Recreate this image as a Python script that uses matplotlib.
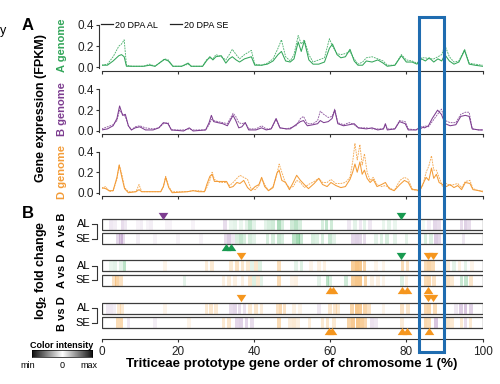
import matplotlib.pyplot as plt
from matplotlib.patches import Rectangle
from matplotlib.lines import Line2D
from matplotlib.colors import to_rgba
import matplotlib.transforms as mtransforms
import numpy as np

plt.rcParams['font.family'] = ['Liberation Sans', 'DejaVu Sans']
plt.rcParams['mathtext.fontset'] = 'custom'
plt.rcParams['mathtext.rm'] = 'Liberation Sans:bold'
plt.rcParams['mathtext.default'] = 'rm'

# ---- panel A: expression along chromosome (% position) ----
a_pos = [0, 1.5, 3, 4.5, 5.2, 5.9, 6.5, 8, 11, 12.6, 14, 15.5, 16.5, 17.5, 18.7, 21, 22.7, 23.5,
         26.5, 27.5, 28.4, 29.2, 30.0, 31.4, 32.6, 33.5, 34.3, 35.3, 36.2, 37.5, 39.3, 40.2, 42.0,
         43.5, 45.0, 46.3, 47.2, 48.3, 49.5, 50.5, 51.6, 52.4, 53.2, 54.4, 55.5, 57, 58.5, 59.8,
         60.6, 61.8, 62.8, 64.0, 65.2, 66.3, 67.3, 68.5, 69.5, 71, 72.5, 73.9, 75, 77, 78.7, 80,
         81.5, 82.8, 84, 85, 86, 87.2, 88.3, 89.3, 90.1, 91.3, 92.5, 93.8, 95.3, 96.5, 98, 100]
a_al = [0.02, 0.02, 0.06, 0.11, 0.12, 0.10, 0.01, 0.01, 0.01, 0.02, 0.01, 0.05, 0.075, 0.06, 0.01,
        0.01, 0.04, 0.01, 0.01, 0.06, 0.10, 0.07, 0.10, 0.11, 0.04, 0.08, 0.10, 0.07, 0.05, 0.08,
        0.10, 0.02, 0.02, 0.03, 0.06, 0.12, 0.15, 0.06, 0.05, 0.08, 0.24, 0.15, 0.25, 0.07, 0.03,
        0.03, 0.05, 0.18, 0.22, 0.12, 0.09, 0.10, 0.17, 0.06, 0.02, 0.02, 0.06, 0.05, 0.07, 0.04,
        0.01, 0.02, 0.11, 0.05, 0.05, 0.03, 0.08, 0.06, 0.09, 0.05, 0.08, 0.06, 0.12, 0.06, 0.03,
        0.05, 0.16, 0.03, 0.02, 0.01]
a_se = [0.02, 0.03, 0.10, 0.20, 0.22, 0.26, 0.02, 0.01, 0.01, 0.03, 0.01, 0.05, 0.08, 0.07, 0.01,
        0.01, 0.03, 0.01, 0.01, 0.07, 0.09, 0.08, 0.12, 0.10, 0.07, 0.12, 0.17, 0.12, 0.08, 0.12,
        0.16, 0.03, 0.02, 0.04, 0.08, 0.18, 0.26, 0.10, 0.06, 0.12, 0.30, 0.22, 0.26, 0.12, 0.05,
        0.07, 0.09, 0.27, 0.20, 0.13, 0.12, 0.13, 0.15, 0.08, 0.03, 0.05, 0.09, 0.10, 0.08, 0.06,
        0.02, 0.02, 0.12, 0.07, 0.06, 0.04, 0.09, 0.09, 0.08, 0.08, 0.10, 0.12, 0.21, 0.10, 0.05,
        0.06, 0.17, 0.04, 0.03, 0.02]

b_pos = [0, 1.5, 3.0, 4.0, 4.7, 5.5, 6.2, 7.0, 7.8, 8.8, 10.0, 11.5, 13.5, 15.0, 16.2, 17.4, 18.3,
         21.5, 23.0, 24.0, 27.3, 28.2, 28.8, 29.4, 30.5, 31.8, 33.0, 34.5, 35.2, 36.0, 36.8, 37.7,
         38.6, 40.5, 42.0, 43.2, 44.5, 45.8, 46.8, 48.5, 49.5, 51.0, 52.2, 53.0, 54.0, 55.5, 56.7,
         57.4, 58.3, 59.5, 60.5, 61.2, 62.0, 63.5, 65.0, 66.3, 67.4, 69.5, 71.0, 72.5, 74.0, 74.5,
         75.0, 77.0, 78.2, 79.7, 80.5, 82.5, 83.8, 84.8, 85.8, 86.8, 88.2, 89.2, 90.2, 91.5, 93.0,
         94.3, 95.5, 96.5, 97.3, 99.0, 100]
b_al = [0.01, 0.02, 0.05, 0.12, 0.24, 0.15, 0.16, 0.05, 0.01, 0.03, 0.04, 0.01, 0.01, 0.03, 0.08,
        0.07, 0.01, 0.0, 0.03, 0.0, 0.01, 0.08, 0.15, 0.09, 0.08, 0.07, 0.05, 0.15, 0.10, 0.03,
        0.04, 0.08, 0.01, 0.01, 0.03, 0.01, 0.02, 0.12, 0.03, 0.02, 0.02, 0.06, 0.09, 0.10, 0.05,
        0.06, 0.07, 0.10, 0.08, 0.09, 0.12, 0.20, 0.07, 0.05, 0.06, 0.07, 0.03, 0.02, 0.03, 0.01,
        0.02, 0.07, 0.01, 0.02, 0.09, 0.07, 0.01, 0.01, 0.04, 0.03, 0.05, 0.12, 0.20, 0.16, 0.07,
        0.05, 0.06, 0.14, 0.15, 0.14, 0.02, 0.01, 0.01]
b_se = [0.02, 0.04, 0.06, 0.10, 0.20, 0.16, 0.14, 0.05, 0.01, 0.04, 0.05, 0.03, 0.02, 0.03, 0.07,
        0.08, 0.01, 0.01, 0.02, 0.01, 0.01, 0.06, 0.11, 0.10, 0.09, 0.08, 0.07, 0.17, 0.14, 0.08,
        0.07, 0.08, 0.02, 0.02, 0.05, 0.02, 0.02, 0.11, 0.03, 0.02, 0.03, 0.05, 0.12, 0.14, 0.07,
        0.07, 0.10, 0.19, 0.16, 0.13, 0.14, 0.21, 0.08, 0.06, 0.08, 0.06, 0.03, 0.03, 0.02, 0.02,
        0.02, 0.06, 0.02, 0.02, 0.10, 0.09, 0.02, 0.01, 0.02, 0.05, 0.04, 0.09, 0.16, 0.21, 0.10,
        0.08, 0.08, 0.16, 0.18, 0.18, 0.02, 0.01, 0.01]

d_pos = [0, 1.0, 2.0, 3.0, 4.0, 4.6, 5.3, 6.0, 7.0, 9.0, 9.8, 10.5, 15.5, 16.2, 16.8, 17.6, 18.5,
         22.5, 24.0, 25.5, 27.0, 27.6, 28.4, 29.0, 29.6, 31.0, 32.8, 33.6, 34.5, 35.5, 36.3, 37.3,
         38.3, 39.2, 40.3, 41.3, 42.0, 42.8, 43.8, 45.0, 46.0, 46.6, 47.3, 48.3, 49.3, 50.3, 51.2,
         52.2, 53.2, 54.3, 55.8, 57.0, 58.0, 59.2, 60.2, 61.5, 62.8, 64.0, 65.2, 65.9, 66.5, 67.1,
         67.8, 68.4, 69.0, 69.7, 70.5, 71.3, 72.3, 73.5, 74.5, 75.5, 76.8, 78.3, 79.5, 80.5, 81.5,
         82.5, 83.5, 84.3, 85.2, 85.9, 86.6, 87.2, 87.9, 88.6, 89.5, 90.5, 91.5, 92.5, 93.5, 94.5,
         95.5, 96.7, 97.5, 99.0, 100]
d_al = [0.05, 0.04, 0.02, 0.02, 0.15, 0.27, 0.15, 0.04, 0.0, 0.01, 0.03, 0.01, 0.01, 0.06, 0.15,
        0.05, 0.0, 0.01, 0.02, 0.01, 0.01, 0.08, 0.16, 0.18, 0.11, 0.11, 0.11, 0.05, 0.06, 0.10,
        0.09, 0.12, 0.05, 0.02, 0.06, 0.08, 0.15, 0.06, 0.02, 0.05, 0.19, 0.22, 0.12, 0.10, 0.03,
        0.10, 0.17, 0.12, 0.08, 0.04, 0.09, 0.14, 0.08, 0.06, 0.10, 0.07, 0.05, 0.06, 0.13, 0.20,
        0.28, 0.20, 0.30, 0.18, 0.22, 0.14, 0.10, 0.13, 0.06, 0.08, 0.10, 0.04, 0.02, 0.08, 0.12,
        0.10, 0.03, 0.03, 0.02, 0.08, 0.15, 0.12, 0.24, 0.14, 0.18, 0.10, 0.08, 0.06, 0.08, 0.05,
        0.07, 0.03, 0.10, 0.09, 0.03, 0.02, 0.01]
d_se = [0.04, 0.06, 0.01, 0.02, 0.13, 0.27, 0.18, 0.05, 0.01, 0.01, 0.08, 0.01, 0.01, 0.06, 0.16,
        0.06, 0.01, 0.01, 0.02, 0.02, 0.01, 0.05, 0.12, 0.20, 0.13, 0.10, 0.10, 0.07, 0.10, 0.14,
        0.17, 0.15, 0.13, 0.04, 0.03, 0.07, 0.14, 0.08, 0.02, 0.06, 0.18, 0.28, 0.20, 0.09, 0.05,
        0.06, 0.12, 0.10, 0.05, 0.08, 0.11, 0.14, 0.10, 0.10, 0.13, 0.09, 0.09, 0.10, 0.15, 0.30,
        0.48, 0.32, 0.47, 0.27, 0.38, 0.20, 0.12, 0.15, 0.08, 0.06, 0.07, 0.05, 0.02, 0.12, 0.15,
        0.13, 0.04, 0.02, 0.02, 0.07, 0.20, 0.26, 0.36, 0.22, 0.22, 0.15, 0.06, 0.09, 0.07, 0.08,
        0.09, 0.05, 0.11, 0.12, 0.04, 0.02, 0.02]

# ---- panel B: log2 fold change bands (+ first genome higher, - second genome higher) ----
avb_al_pos = [2.5, 3.5, 5.5, 6.2, 9.5, 10.5, 12, 13, 17, 18, 24, 32.3, 34, 35, 36.5, 38, 39, 40, 43,
              44, 45, 46.5, 47.5, 50, 51, 52, 58, 59, 60.3, 65, 66.5, 68, 69, 70.5, 74, 75.5, 77,
              84.5, 86, 87.5, 88.5, 94.5, 95.5, 96.5]
avb_al_val = [-0.2, -0.15, -0.3, -0.2, -0.1, -0.15, -0.1, -0.15, -0.1, -0.1, -0.1, -0.3, 0.15, 0.2,
              0.15, 0.2, 0.45, 0.2, 0.2, 0.3, 0.35, 0.6, 0.3, 0.35, 0.5, 0.3, 0.3, 0.45, 0.35, -0.2,
              0.2, -0.2, 0.2, -0.2, 0.15, 0.2, 0.15, 0.1, -0.15, -0.35, -0.3, -0.3, -0.4, -0.3]
avb_se_pos = [4.3, 5, 5.6, 9.5, 14, 20, 26, 32.5, 33.5, 34.5, 35.5, 36.5, 37.5, 39, 40, 43.5, 45,
              46.5, 47.5, 50.5, 51.5, 52.3, 55.5, 56.5, 58, 60, 61, 66, 67, 68, 69, 72, 73.5, 75,
              77, 80, 85, 86.5, 87.8, 88.7, 95]
avb_se_val = [-0.35, -0.5, -0.3, -0.15, -0.1, -0.1, -0.1, -0.3, -0.45, -0.2, 0.3, 0.45, 0.3, 0.3,
              0.2, 0.3, 0.3, 0.4, 0.3, 0.5, 0.7, 0.4, 0.3, 0.25, 0.3, 0.4, 0.2, -0.35, -0.4, -0.35,
              -0.3, 0.2, 0.25, 0.3, 0.2, 0.2, 0.3, 0.25, -0.45, -0.35, -0.2]
avd_al_pos = [2.5, 3.5, 5, 6, 16.7, 27.5, 29, 34, 35.5, 37, 38.5, 39.5, 40.5, 41.5, 46.5, 51, 52.5,
              55, 57, 58.5, 66, 67, 68, 69, 72, 74, 79, 80.3, 85, 86, 87, 91, 92.5, 94, 95.5, 97.3]
avd_al_val = [0.15, 0.2, 0.2, 0.5, -0.15, -0.25, -0.3, -0.3, -0.4, -0.35, -0.3, 0.2, -0.35, 0.25,
              -0.45, 0.2, 0.25, -0.15, -0.2, -0.2, -0.7, -0.85, -0.8, -0.6, -0.15, -0.15, -0.5,
              -0.4, -0.5, -0.6, -0.5, -0.25, 0.2, -0.2, 0.2, -0.15]
avd_se_pos = [3.2, 4, 5, 21.7, 32, 33.5, 35, 37, 39, 40, 41, 42, 46.5, 50, 51, 57, 59.3, 60, 64.2,
              66, 67, 68, 69.3, 71, 72.5, 74, 78.8, 80, 85, 86, 87.3, 91, 92, 94.5, 95.6, 97]
avd_se_val = [-0.4, -0.6, -0.4, 0.2, -0.2, -0.25, -0.2, -0.2, -0.35, 0.25, -0.3, 0.2, -0.5, -0.15,
              -0.2, 0.2, 0.5, 0.25, 0.35, -0.7, -0.8, -0.8, -0.6, -0.2, -0.2, -0.15, 0.25, -0.2,
              -0.5, -0.55, -0.4, -0.4, -0.3, 0.4, 0.45, -0.35]
bvd_al_pos = [1.7, 2.6, 3.4, 4.5, 5.3, 16.7, 27.5, 28.7, 30, 34, 35, 36.2, 37.5, 39, 40.5, 42,
              46.2, 47, 48, 50.5, 52, 57, 60, 61.2, 62, 65.8, 67, 68, 69.2, 70.2, 74, 78.8, 80.5,
              85, 86, 87.5, 93, 94.3, 95.5, 97]
bvd_al_val = [0.2, 0.2, 0.15, -0.3, -0.3, -0.15, -0.3, -0.35, -0.3, 0.3, 0.35, 0.3, 0.25, -0.3,
              -0.35, -0.25, -0.4, -0.55, -0.4, -0.2, -0.15, 0.2, -0.35, -0.35, -0.3, -0.6, -0.8,
              -0.75, -0.6, -0.4, -0.15, -0.4, -0.35, -0.55, -0.6, -0.5, 0.2, 0.45, 0.5, 0.4]
bvd_se_pos = [4.3, 5.2, 7, 14, 23, 32, 33.5, 35.5, 36.5, 38, 39.5, 46.5, 49.5, 50.5, 51.5, 54.6, 58,
              59.3, 61, 65, 66, 67.3, 68.3, 69.3, 71, 72, 78.8, 85, 86, 87.8, 91, 92, 94.5, 95.5,
              96.8]
bvd_se_val = [-0.5, -0.55, 0.2, 0.15, -0.15, -0.3, -0.35, 0.35, 0.4, 0.35, 0.3, -0.5, -0.25, -0.3,
              -0.2, -0.25, -0.3, -0.35, -0.3, -0.6, -0.75, -0.8, -0.7, -0.55, 0.25, 0.2, -0.25,
              -0.55, -0.5, 0.5, -0.35, -0.3, -0.3, 0.3, -0.3]

# significant regions: position, slot (0/1 = above/below A vs B, 2/3 A vs D, 4/5 B vs D), genome
mark_pos = [16.0, 78.6, 32.7, 33.9, 36.5, 78.6, 85.6, 87.0, 59.9, 60.7, 78.9, 80.2, 85.8,
            36.5, 85.6, 86.9, 59.7, 60.5, 78.9, 80.2, 85.9]
mark_slot = [0, 0, 1, 1, 2, 2, 2, 2, 3, 3, 3, 3, 3, 4, 4, 4, 5, 5, 5, 5, 5]
mark_genome = ['B', 'A', 'A', 'A', 'D', 'A', 'D', 'D', 'D', 'D', 'D', 'D', 'D',
               'D', 'D', 'D', 'D', 'D', 'D', 'D', 'D']

highlight = (83.2, 89.8)
xticks = [0, 20, 40, 60, 80, 100]

GREEN, PURPLE, ORANGE = '#33a65a', '#7d3d90', '#f39c38'
BAND = {'G': '#4fb56e', 'P': '#9a6aae', 'O': '#f3a23e'}
MARK = {'A': '#189a50', 'B': '#7d3d90', 'D': '#f5961e'}
DARK = '#333333'

W, H = 500, 384
fig = plt.figure(figsize=(5, 3.84), dpi=100)


def box(left, top, right, bottom):
    return [left / W, 1 - bottom / H, (right - left) / W, (bottom - top) / H]


def fx(x):
    return x / W


def fy(y):
    return 1 - y / H


# ---- panel A ----
panels = [(a_pos, a_al, a_se, GREEN, 'A genome', (14.4, 70.5)),
          (b_pos, b_al, b_se, PURPLE, 'B genome', (78.9, 134.1)),
          (d_pos, d_al, d_se, ORANGE, 'D genome', (141.45, 195.8))]
axes_a = []
for pos, al, se, col, name, (top, bottom) in panels:
    ax = fig.add_axes(box(101.7, top, 482.5, bottom))
    ax.plot(pos, al, color=col, lw=0.75)
    ax.plot(pos, se, color=col, lw=0.65, ls=(0, (2, 1)), alpha=0.85)
    ax.set_xlim(0, 100)
    ax.set_ylim(-0.03, 0.5)
    ax.patch.set_alpha(0)
    for s in ['top', 'right']:
        ax.spines[s].set_visible(False)
    ax.spines['left'].set_position(('outward', 2.2))
    ax.spines['left'].set_bounds(-0.01, 0.4)
    ax.spines['bottom'].set_bounds(0, 100)
    for s in ['left', 'bottom']:
        ax.spines[s].set_color(DARK)
        ax.spines[s].set_linewidth(0.8)
    ax.set_yticks([0, 0.2, 0.4])
    ax.set_yticklabels(['0.0', '0.2', '0.4'])
    ax.set_xticks(xticks)
    ax.set_xticklabels([])
    ax.tick_params(length=2.2, width=0.8, pad=1, labelsize=8.5, color=DARK, labelcolor='#222')
    fig.text(fx(62), fy((top + bottom) / 2 + 3), name, rotation=90, color=col,
             fontsize=8, fontweight='bold', ha='center', va='center')
    axes_a.append(ax)

handles = [Line2D([], [], color='#222', lw=0.9), Line2D([], [], color='#222', lw=0.9)]
axes_a[0].legend(handles, ['20 DPA AL', '20 DPA SE'], loc='center left',
                 bbox_to_anchor=(fx(101), fy(25)), bbox_transform=fig.transFigure, ncol=2,
                 frameon=False, handlelength=1.3, handletextpad=0.3, columnspacing=1.3,
                 fontsize=6.5, borderpad=0, borderaxespad=0)

fig.text(fx(41), fy(108), 'Gene expression (FPKM)', rotation=90, fontsize=9,
         fontweight='bold', ha='center', va='center')
fig.text(fx(28), fy(25), 'A', fontsize=12, fontweight='bold', ha='center', va='center')
fig.text(fx(0), fy(31), 'y', fontsize=9, ha='left', va='center')

# ---- panel B ----
axb = fig.add_axes(box(101.7, 205, 482.5, 339))
axb.set_xlim(0, 100)
axb.set_ylim(339, 205)
axb.patch.set_alpha(0)
for s in ['top', 'right', 'left']:
    axb.spines[s].set_visible(False)
axb.spines['bottom'].set_color(DARK)
axb.spines['bottom'].set_linewidth(0.8)
axb.set_yticks([])
axb.set_xticks(xticks)
axb.tick_params(length=2.5, width=0.8, pad=2.5, labelsize=8.5, color=DARK, labelcolor='#222')

rows = [(avb_al_pos, avb_al_val, 'G', 'P', 219.0),
        (avb_se_pos, avb_se_val, 'G', 'P', 233.3),
        (avd_al_pos, avd_al_val, 'G', 'O', 260.3),
        (avd_se_pos, avd_se_val, 'G', 'O', 275.0),
        (bvd_al_pos, bvd_al_val, 'P', 'O', 303.0),
        (bvd_se_pos, bvd_se_val, 'P', 'O', 317.3)]
row_h = 10.5
for pos, val, cpos, cneg, top in rows:
    cols = [to_rgba(BAND[cpos] if v > 0 else BAND[cneg], min(1, 0.75 * abs(v))) for v in val]
    axb.bar(pos, row_h, width=0.95, bottom=top, color=cols, linewidth=0)
    axb.add_patch(Rectangle((0, top), 100, row_h, fill=False, ec='#3c3c3c', lw=0.9))

slot_y = [215.7, 247.0, 256.0, 289.5, 297.5, 331.0]
for p, sl, g in zip(mark_pos, mark_slot, mark_genome):
    if sl % 2 == 0:
        verts = [(-1, 0.75), (1, 0.75), (0, -0.75)]
    else:
        verts = [(-1, -0.75), (1, -0.75), (0, 0.75)]
    axb.scatter([p], [slot_y[sl]], marker=verts, s=48, color=MARK[g], lw=0, zorder=5,
                clip_on=False)

pairs = [('A vs B', 0), ('A vs D', 2), ('B vs D', 4)]
for label, i in pairs:
    y_al = rows[i][4] + row_h / 2
    y_se = rows[i + 1][4] + row_h / 2
    fig.text(fx(90.5), fy(y_al), 'AL', fontsize=8, ha='right', va='center')
    fig.text(fx(90.5), fy(y_se), 'SE', fontsize=8, ha='right', va='center')
    fig.add_artist(Line2D([fx(92), fx(96.5), fx(96.5), fx(92)],
                          [fy(y_al), fy(y_al), fy(y_se), fy(y_se)], color=DARK, lw=0.8))
    fig.text(fx(62), fy((y_al + y_se) / 2 - 2), label, rotation=90, fontsize=8,
             fontweight='bold', ha='center', va='center')

fig.text(fx(41), fy(270), r'log$_2$ fold change', rotation=90, fontsize=9,
         fontweight='bold', ha='center', va='center')
fig.text(fx(28), fy(214), 'B', fontsize=12, fontweight='bold', ha='center', va='center')
fig.text(fx(292), fy(364), 'Triticeae prototype gene order of chromosome 1 (%)',
         fontsize=9.6, fontweight='bold', ha='center', va='center')

# ---- colour intensity key ----
axc = fig.add_axes(box(31.7, 350, 92.3, 357))
grad = np.abs(np.linspace(-1, 1, 256))[None, :]
axc.imshow(grad, aspect='auto', cmap='gray_r', vmin=0, vmax=1.05)
axc.set_xticks([])
axc.set_yticks([])
for s in axc.spines.values():
    s.set_linewidth(0.5)
fig.text(fx(61.7), fy(345), 'Color intensity', fontsize=6.5, fontweight='bold',
         ha='center', va='center')
for x, t in [(28, 'min'), (61.7, '0'), (89, 'max')]:
    fig.text(fx(x), fy(365), t, fontsize=6.5, ha='center', va='center')

# ---- highlighted region ----
trans = mtransforms.blended_transform_factory(axes_a[0].transData, fig.transFigure)
rect = Rectangle((highlight[0], fy(351.7)), highlight[1] - highlight[0], fy(17.3) - fy(351.7),
                 transform=trans, fill=False, ec='#1f6cb0', lw=2.2, zorder=10)
fig.add_artist(rect)

fig.savefig('out.png', dpi=100)
